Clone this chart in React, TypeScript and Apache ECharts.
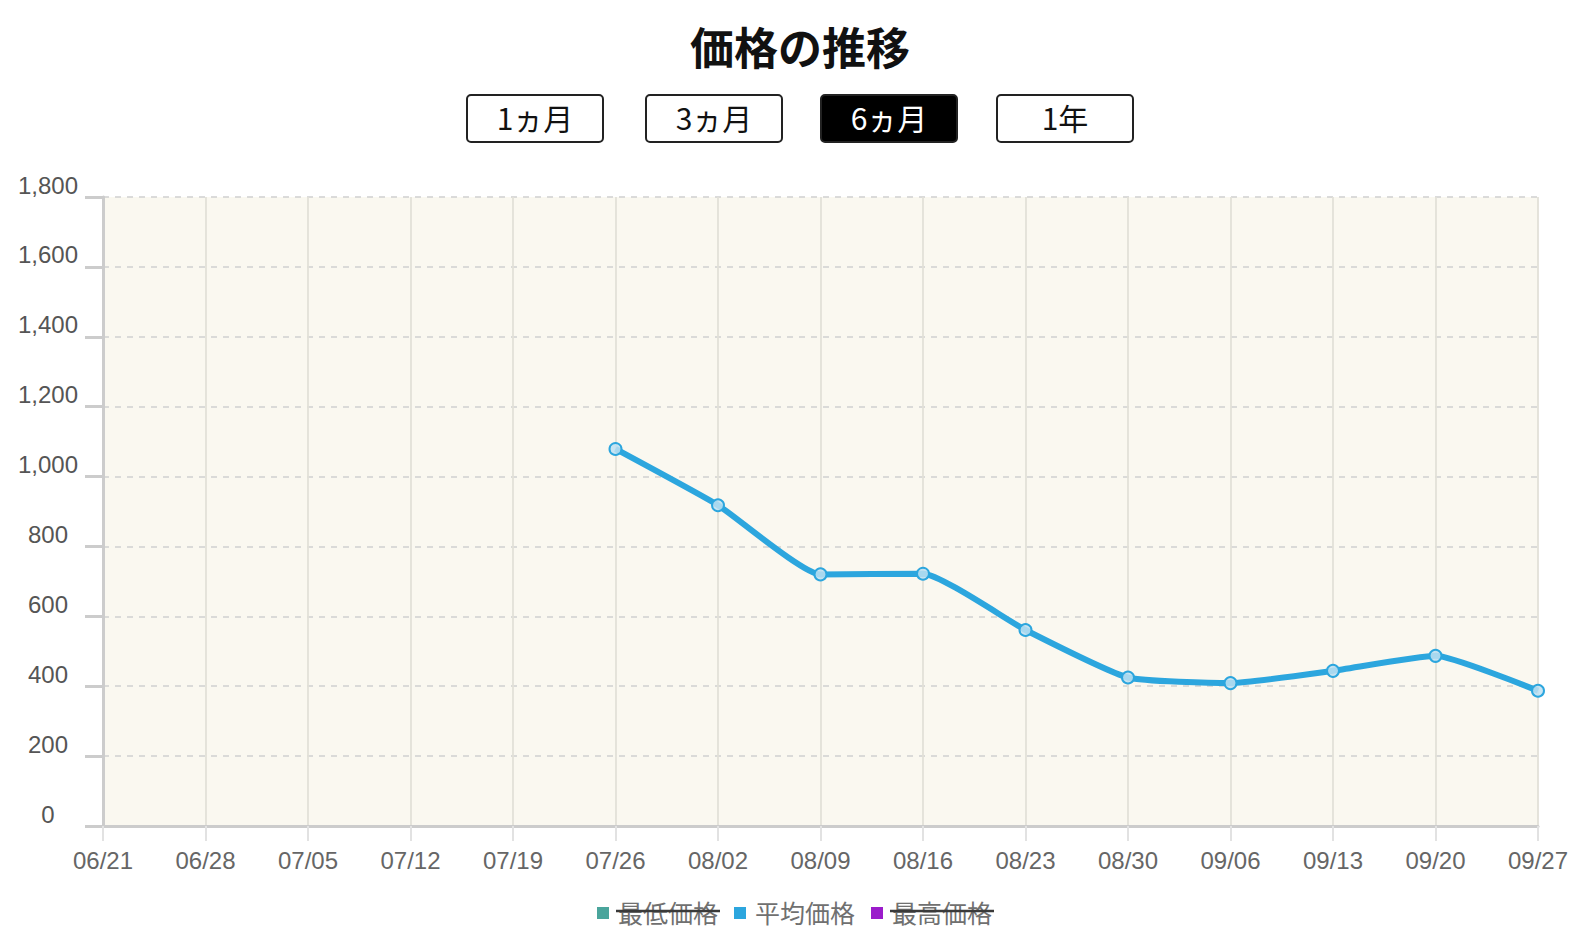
import React, { useEffect, useRef } from "react";
import * as echarts from "echarts";

const chartTitle = "価格の推移";
const categories = ["06/21", "06/28", "07/05", "07/12", "07/19", "07/26", "08/02", "08/09", "08/16", "08/23", "08/30", "09/06", "09/13", "09/20", "09/27"];
const avgPrices = [null, null, null, null, null, 1079, 918, 720, 722, 561, 425, 409, 444, 487, 387];
const minPrices: (number | null)[] = [];
const maxPrices: (number | null)[] = [];
const seriesNames = ["最低価格", "平均価格", "最高価格"];
const seriesColors = ["#4aa59c", "#2ca6de", "#9b1ccb"];
const hiddenSeries = [true, false, true];
const periodButtons = ["1ヵ月", "3ヵ月", "6ヵ月", "1年"];
const activePeriod = 2;
const yMin = 0;
const yMax = 1800;
const yInterval = 200;

const buttonX = [467, 646, 821, 997];
const buttonW = 136;

const cjk = "'Noto Sans CJK JP', 'Noto Sans', sans-serif";
const latin = "'Liberation Sans', Arial, sans-serif";

const legendLeft = 597;
const legendY = 912;
const legendIcon = 12;
const legendTextGap = 9;
const legendGap = 16;
const legendFontSize = 25;

function measure(text: string, font: string): number {
  const c = document.createElement("canvas");
  const ctx = c.getContext("2d");
  if (!ctx) return text.length * legendFontSize;
  ctx.font = font;
  const w = ctx.measureText(text).width;
  return w > 10 ? w : text.length * legendFontSize;
}

export default function App() {
  const ref = useRef<HTMLDivElement>(null);
  useEffect(() => {
    document.body.style.margin = "0";
    if (!ref.current) return;
    const chart = echarts.init(ref.current, undefined, { renderer: "svg" });

    const buttons = periodButtons.map((label, i) => ({
      type: "group",
      x: buttonX[i],
      y: 95,
      children: [
        {
          type: "rect",
          shape: { x: 0, y: 0, width: buttonW, height: 47, r: 4 },
          style: { fill: i === activePeriod ? "#000" : "#fff", stroke: "#222", lineWidth: 2 },
        },
        {
          type: "text",
          x: buttonW / 2,
          y: 22,
          style: {
            text: label,
            fill: i === activePeriod ? "#fff" : "#111",
            font: `30px ${cjk}`,
            align: "center",
            verticalAlign: "middle",
          },
        },
      ],
    }));

    const legendFont = `${legendFontSize}px ${cjk}`;
    const legendEls: any[] = [];
    let cursor = legendLeft;
    seriesNames.forEach((name, i) => {
      const w = measure(name, legendFont);
      const tx = cursor + legendIcon + legendTextGap;
      legendEls.push({
        type: "rect",
        shape: { x: cursor, y: legendY - legendIcon / 2 + 1, width: legendIcon, height: legendIcon },
        style: { fill: seriesColors[i] },
      });
      legendEls.push({
        type: "text",
        x: tx,
        y: legendY,
        z: 10,
        style: { text: name, fill: "#707070", font: legendFont, align: "left", verticalAlign: "middle" },
      });
      if (hiddenSeries[i]) {
        legendEls.push({
          type: "line",
          z: 20,
          shape: { x1: tx - 2, y1: legendY - 1, x2: tx + w + 2, y2: legendY - 1 },
          style: { stroke: "#3a3a3a", lineWidth: 2.5 },
        });
      }
      cursor = tx + w + legendGap;
    });

    const data = [minPrices, avgPrices, maxPrices];

    chart.setOption({
      animation: false,
      graphic: [
        {
          type: "text",
          x: 800,
          y: 46,
          style: {
            text: chartTitle,
            fill: "#111",
            font: `bold 44px ${cjk}`,
            align: "center",
            verticalAlign: "middle",
          },
        },
        ...buttons,
        ...legendEls,
      ],
      grid: {
        left: 103,
        right: 52,
        top: 197,
        bottom: 110,
        show: true,
        backgroundColor: "#faf8f0",
        borderWidth: 0,
      },
      xAxis: {
        type: "category",
        data: categories,
        boundaryGap: false,
        axisLine: { lineStyle: { color: "#cccccc", width: 3 } },
        axisTick: { show: true, length: 15, lineStyle: { color: "#e2e2e2", width: 2 } },
        axisLabel: { color: "#666", fontSize: 24, fontFamily: latin, margin: 22 },
        splitLine: { show: true, lineStyle: { color: "#e2e0d8", width: 1.8 } },
      },
      yAxis: {
        type: "value",
        min: yMin,
        max: yMax,
        interval: yInterval,
        axisLine: { show: true, lineStyle: { color: "#cccccc", width: 3 } },
        axisTick: { show: true, length: 18, lineStyle: { color: "#cccccc", width: 3 } },
        axisLabel: {
          color: "#555",
          fontSize: 24,
          fontFamily: latin,
          align: "center",
          verticalAlign: "bottom",
          margin: 55,
          formatter: (v: number) => v.toLocaleString("en-US"),
        },
        splitLine: { show: true, lineStyle: { color: "#cfcfcf", width: 1.5, type: [6, 6] } },
      },
      series: seriesNames.map((name, i) => ({
        name,
        type: "line",
        data: data[i],
        smooth: 0.15,
        color: seriesColors[i],
        lineStyle: { color: seriesColors[i], width: 6 },
        symbol: "circle",
        symbolSize: 12,
        showSymbol: true,
        itemStyle: { color: "rgba(190,225,242,0.85)", borderColor: seriesColors[i], borderWidth: 2 },
      })),
    });
    return () => chart.dispose();
  }, []);
  return <div ref={ref} style={{ width: 1590, height: 936 }} />;
}
